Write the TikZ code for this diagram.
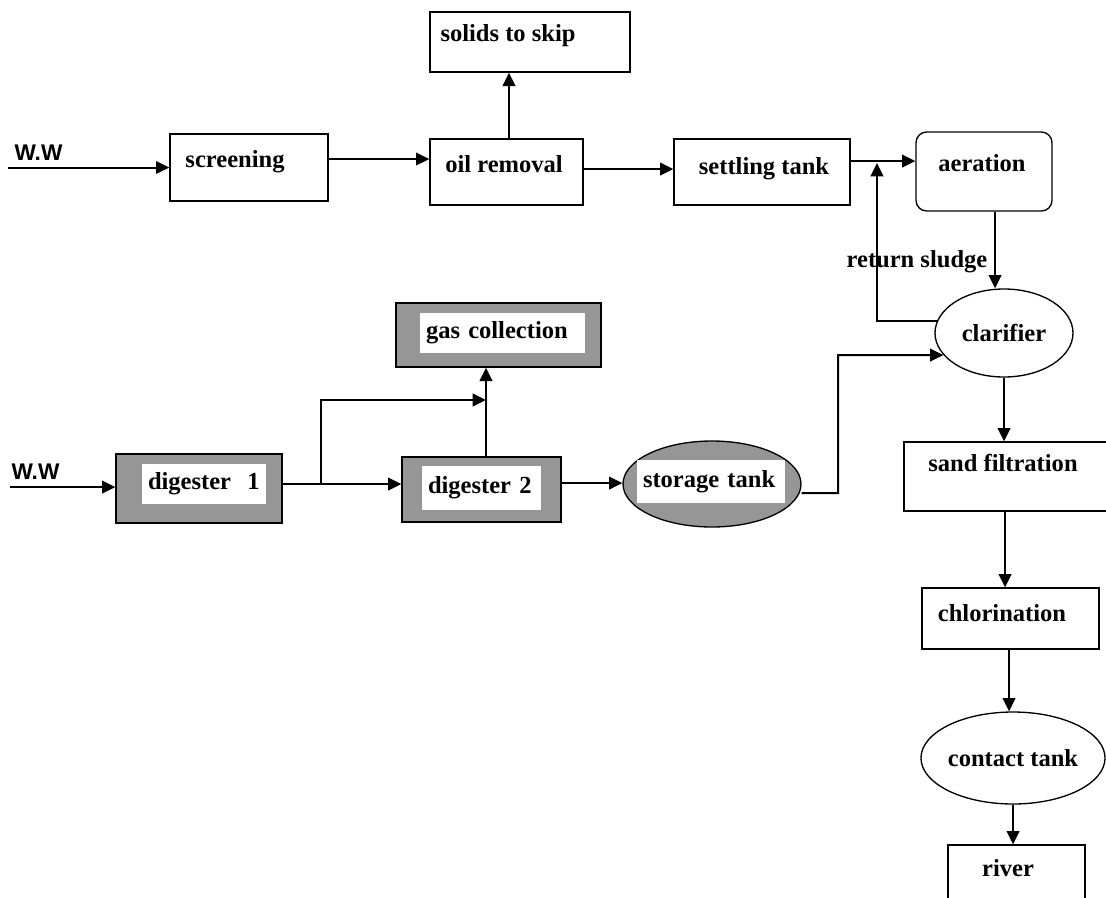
\documentclass[tikz,border=0pt]{standalone}
\usepackage{fontspec}
\setmainfont{Liberation Serif}
\setsansfont{Liberation Sans}
\usetikzlibrary{arrows.meta,shapes.geometric}
\definecolor{tankgray}{RGB}{150,150,150}

\begin{document}
\begin{tikzpicture}[
  x=0.75pt, y=-0.75pt,
  font=\bfseries\fontsize{18.4}{20}\selectfont,
  box/.style 2 args={draw, line width=1pt, inner sep=0pt,
    minimum width=#1*0.75pt, minimum height=#2*0.75pt},
  tank/.style 2 args={box={#1}{#2}, ellipse},
  dark/.style={fill=tankgray},
  inbox/.style 2 args={fill=white, inner xsep=4.5pt, inner ysep=0pt,
    text width=#1, minimum height=#2, align=left},
  arr/.style={line width=1.5pt, -{Triangle[length=10pt,width=9.5pt]}},
  ww/.style={font=\sffamily\bfseries\fontsize{17}{19}\selectfont}
  ]
  \useasboundingbox (0,0) rectangle (1106,897);
  \clip (0,0) rectangle (1106,897);

  % main line
  \node[box={158}{67}] (screen) at (249,167.5) {};
  \node[box={153}{66}] (oil) at (506.5,172) {};
  \node[box={200}{60}] (solids) at (530,42) {};
  \node[box={176}{66}] (settle) at (762,172) {};
  \node[box={136}{79}, rounded corners=8pt] (aer) at (984,171.5) {};
  \node[tank={138}{88}] (clar) at (1004,333) {clarifier};
  \node[box={222}{69}] (sand) at (1015,476.5) {};
  \node[box={177}{61}] (chlor) at (1010.5,618.5) {};
  \node[tank={168}{92}] (cont) at (1013,758) {contact tank};
  \node[box={137}{70}] (river) at (1016.5,880) {};

  \node (t-screen) at (235,162) {screening};
  \node (t-oil) at (504,164) {oil removal};
  \node (t-solids) at (508,36) {solids to skip};
  \node (t-settle) at (764,169) {settling tank};
  \node (t-aer) at (982,163) {aeration};
  \node (t-sand) at (1003,463) {sand filtration};
  \node (t-chlor) at (1002,613) {chlorination};
  \node (t-river) at (1008,868) {river};
  \node (t-return) at (917,262) {return sludge};

  % sludge line
  \node[box={205}{64}, dark] (gas) at (498.5,335) {};
  \node[inbox={114.75pt}{30pt}] (gas-in) at (502.5,333) {gas collection};
  \node[box={166}{69}, dark] (dig1) at (199,488.5) {};
  \node[inbox={84pt}{30pt}] (dig1-in) at (204,484) {digester~\ 1};
  \node[box={159}{65}, dark] (dig2) at (481.5,489.5) {};
  \node[inbox={80.25pt}{33pt}] (dig2-in) at (481.5,488) {digester 2};
  \node[tank={178}{86}, dark] (stor) at (712,484) {};
  \node[inbox={102pt}{32.25pt}] (stor-in) at (711,481.5) {storage tank};

  \node[ww] (ww-top) at (38.5,153) {W.W};
  \node[ww] (ww-bot) at (35.5,472) {W.W};

  % connectors
  \coordinate (ww1) at (8,167.5);
  \coordinate (ww2) at (10,487);
  \coordinate (ret) at (877,163);
  \coordinate (bend) at (838,355);
  \coordinate (split) at (321,484);
  \coordinate (gasin) at (486,400);

  \draw[arr] (ww1) -- (screen.west |- ww1);
  \draw[arr] (screen.east |- 0,159) -- (oil.west |- 0,159);
  \draw[arr] (oil.north -| 509,0) -- (solids.south -| 509,0);
  \draw[arr] (oil.east |- 0,169) -- (settle.west |- 0,169);
  \draw[arr] (settle.east |- 0,161) -- (aer.west |- 0,161);
  \draw[arr] (aer.south -| 995,0) -- (clar.north -| 995,0);
  \draw[arr] (clar.170) -| (ret);
  \draw[arr] (clar.south) -- (clar.south |- sand.north);
  \draw[arr] (sand.south -| 1005,0) -- (chlor.north -| 1005,0);
  \draw[arr] (chlor.south -| 1009,0) -- (cont.north -| 1009,0);
  \draw[arr] (cont.south) -- (cont.south |- river.north);

  \draw[arr] (ww2) -- (dig1.west |- ww2);
  \draw[arr] (dig1.east |- 0,484) -- (dig2.west |- 0,484);
  \draw[arr] (split) |- (gasin);
  \draw[arr] (dig2.north -| gasin) -- (gas.south -| gasin);
  \draw[arr] (dig2.east |- 0,483) -- (stor.west |- 0,483);
  \draw[arr] (stor.east |- 0,493) -| (bend) -- (clar.200);
\end{tikzpicture}
\end{document}
